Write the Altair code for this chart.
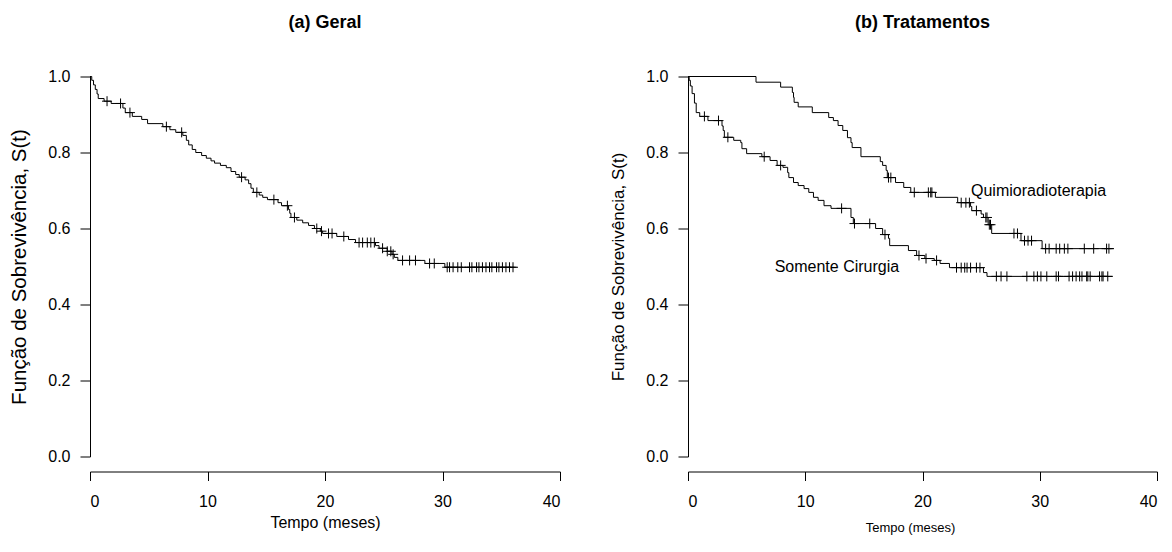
import altair as alt
import pandas as pd

FONT = "Liberation Sans"

# ---------------- Panel (a) Geral ----------------
geral_t = [0.15, 0.3, 0.45, 0.6, 0.7, 1.2, 1.8, 2.8, 3.0, 3.6, 4.4, 4.9, 6.2, 6.8, 7.3,
           7.9, 8.2, 8.4, 8.7, 9.0, 9.5, 9.9, 10.3, 10.6, 11.1, 11.6, 12.0, 12.4, 12.7,
           13.2, 13.5, 13.7, 13.9, 14.4, 14.7, 15.1, 16.0, 16.3, 16.9, 17.0, 17.1, 17.6,
           18.1, 18.6, 19.1, 19.6, 19.8, 21.0, 22.0, 22.6, 24.3, 24.6, 25.3, 25.7, 25.9,
           26.2, 28.5, 30.2]
geral_s = [0.99, 0.978, 0.966, 0.954, 0.942, 0.935, 0.929, 0.917, 0.905, 0.895, 0.887,
           0.876, 0.868, 0.86, 0.853, 0.845, 0.832, 0.82, 0.808, 0.80, 0.792, 0.785,
           0.778, 0.772, 0.766, 0.76, 0.75, 0.742, 0.735, 0.728, 0.718, 0.706, 0.695,
           0.688, 0.682, 0.676, 0.668, 0.66, 0.65, 0.64, 0.629, 0.622, 0.615, 0.608,
           0.60, 0.593, 0.587, 0.579, 0.571, 0.563, 0.555, 0.548, 0.54, 0.532, 0.524,
           0.516, 0.508, 0.498]
geral_end = 36.3
geral_cens = [1.45, 2.6, 3.4, 6.5, 7.8, 12.9, 14.2, 15.65, 16.8, 17.4, 19.3, 19.7, 20.3,
              20.6, 21.6, 22.9, 23.2, 23.6, 23.9, 24.2, 24.9, 25.3, 25.6, 25.8, 26.6,
              27.2, 27.7, 28.9, 29.3, 30.4, 30.6, 30.9, 31.3, 31.6, 32.3, 32.5, 32.9,
              33.1, 33.4, 33.7, 34.0, 34.2, 34.6, 34.8, 35.1, 35.4, 35.7, 36.0]

# ---------------- Panel (b) Tratamentos ----------------
quimio_t = [5.8, 7.9, 8.9, 9.0, 9.05, 9.4, 10.6, 12.0, 12.4, 12.8, 13.2, 13.6, 13.9, 14.0,
            14.75, 16.4, 16.6, 16.9, 17.0, 17.7, 18.4, 19.0, 21.1, 23.0, 24.1, 24.2, 25.0,
            25.2, 25.6, 25.9, 28.4, 30.2]
quimio_s = [0.985, 0.972, 0.958, 0.945, 0.932, 0.92, 0.905, 0.892, 0.884, 0.871, 0.858,
            0.839, 0.826, 0.813, 0.789, 0.776, 0.766, 0.753, 0.734, 0.721, 0.708, 0.695,
            0.682, 0.668, 0.658, 0.647, 0.638, 0.629, 0.61, 0.587, 0.568, 0.547]
quimio_end = 36.3
quimio_cens = [17.1, 17.3, 19.3, 20.5, 20.7, 20.8, 23.3, 23.7, 24.0, 24.6, 25.4, 25.5, 25.7,
               25.8, 27.8, 28.1, 28.7, 29.0, 29.3, 30.5, 30.8, 31.4, 31.7, 32.1, 32.4, 33.8,
               34.6, 35.7, 35.9]

cirurgia_t = [0.1, 0.2, 0.35, 0.55, 0.7, 1.0, 1.7, 2.9, 3.0, 3.1, 3.9, 4.5, 4.6, 5.0, 6.3,
              7.0, 7.6, 8.1, 8.5, 8.6, 9.0, 9.4, 9.9, 10.3, 10.7, 11.1, 11.6, 12.2, 13.9,
              14.1, 16.0, 16.6, 17.1, 17.2, 18.8, 19.5, 20.2, 21.0, 21.5, 22.3, 25.2, 25.5]
cirurgia_s = [0.99, 0.975, 0.955, 0.93, 0.905, 0.895, 0.884, 0.87, 0.858, 0.84, 0.832,
              0.826, 0.81, 0.797, 0.789, 0.779, 0.766, 0.761, 0.747, 0.734, 0.721, 0.713,
              0.705, 0.695, 0.682, 0.674, 0.66, 0.653, 0.629, 0.613, 0.60, 0.584, 0.574,
              0.555, 0.542, 0.529, 0.521, 0.516, 0.508, 0.497, 0.484, 0.474]
cirurgia_end = 36.2
cirurgia_cens = [1.4, 2.6, 3.4, 6.5, 7.9, 13.1, 14.2, 15.5, 16.8, 19.7, 20.3, 21.2, 22.9,
                 23.3, 23.6, 23.8, 24.1, 24.6, 24.9, 26.3, 26.7, 27.2, 28.9, 29.5, 29.8,
                 30.1, 30.6, 31.4, 31.6, 32.5, 32.8, 33.1, 33.4, 33.6, 34.0, 34.1, 34.3,
                 35.1, 35.3, 35.4, 35.8]

label_text = ["Quimioradioterapia", "Somente Cirurgia"]
label_t = [29.9, 12.7]
label_s = [0.70, 0.50]

x_ticks = [0, 10, 20, 30, 40]
y_ticks = [0.0, 0.2, 0.4, 0.6, 0.8, 1.0]


def step_df(ts, ss, end, group):
    tt = [0.0] + list(ts) + [end]
    sv = [1.0] + list(ss) + [ss[-1]]
    return pd.DataFrame({"t": tt, "S": sv, "g": group, "o": list(range(len(tt)))})


def cens_df(ts, ss, cens, group):
    vals = []
    for c in cens:
        v = 1.0
        for t, s in zip(ts, ss):
            if t <= c:
                v = s
        vals.append(v)
    return pd.DataFrame({"t": list(cens), "S": vals, "g": group})


PLUS = "M-1,0L1,0M0,-1L0,1"


def panel(lines, cens, title, xt_size, yt_size, xt_pad, width, texts=None, xt_x=None):
    xaxis_kw = dict(values=x_ticks, title="Tempo (meses)", offset=15,
                    tickSize=9, labelPadding=13, labelFontSize=16,
                    titleFontSize=xt_size, titlePadding=xt_pad, format="d")
    if xt_x is not None:
        xaxis_kw["titleX"] = xt_x
    xenc = alt.X("t:Q", scale=alt.Scale(domain=[0, 40], nice=False, zero=False),
                 axis=alt.Axis(**xaxis_kw))
    yenc = alt.Y("S:Q", scale=alt.Scale(domain=[0, 1], nice=False),
                 axis=alt.Axis(values=y_ticks, title="Função de Sobrevivência, S(t)",
                               tickSize=10, labelPadding=10, labelFontSize=16,
                               labelAngle=0, format=".1f",
                               titleFontSize=yt_size, titlePadding=18))
    line = alt.Chart(lines).mark_line(interpolate="step-after", color="black",
                                      strokeWidth=1).encode(
        x=xenc, y=yenc, detail="g:N", order="o:Q")
    pts = alt.Chart(cens).mark_point(shape=PLUS, filled=False, color="black",
                                     strokeWidth=1, size=100, opacity=1).encode(
        x=xenc, y=yenc, detail="g:N")
    layers = [line, pts]
    if texts is not None:
        layers.append(alt.Chart(texts).mark_text(font=FONT, fontSize=16, color="black",
                                                 align="center", baseline="middle").encode(
            x=xenc, y=yenc, text="label:N"))
    return alt.layer(*layers).properties(
        width=width, height=380,
        title=alt.TitleParams(title, fontSize=18, fontWeight="bold", font=FONT,
                              anchor="middle", frame="group", offset=36.5, color="black"))


p1 = panel(step_df(geral_t, geral_s, geral_end, "Geral"),
           cens_df(geral_t, geral_s, geral_cens, "Geral"),
           "(a) Geral", 16, 20.5, 5, 470)

lines2 = pd.concat([step_df(quimio_t, quimio_s, quimio_end, "Quimioradioterapia"),
                    step_df(cirurgia_t, cirurgia_s, cirurgia_end, "Somente Cirurgia")])
cens2 = pd.concat([cens_df(quimio_t, quimio_s, quimio_cens, "Quimioradioterapia"),
                   cens_df(cirurgia_t, cirurgia_s, cirurgia_cens, "Somente Cirurgia")])
texts2 = pd.DataFrame({"t": label_t, "S": label_s, "label": label_text})
p2 = panel(lines2, cens2, "(b) Tratamentos", 13, 17, 12, 469, texts2, xt_x=222)

chart = alt.hconcat(p1, p2, spacing=128, bounds="flush").configure_view(
    stroke=None
).configure_axis(
    grid=False, domainColor="black", tickColor="black", labelColor="black",
    titleColor="black", labelFont=FONT, titleFont=FONT, titleFontWeight="normal",
    domainWidth=1, tickWidth=1
).properties(padding={"left": 9, "top": 13.5, "right": 5, "bottom": 5})

chart.save("out.html", embed_options={"renderer": "svg", "actions": False})
